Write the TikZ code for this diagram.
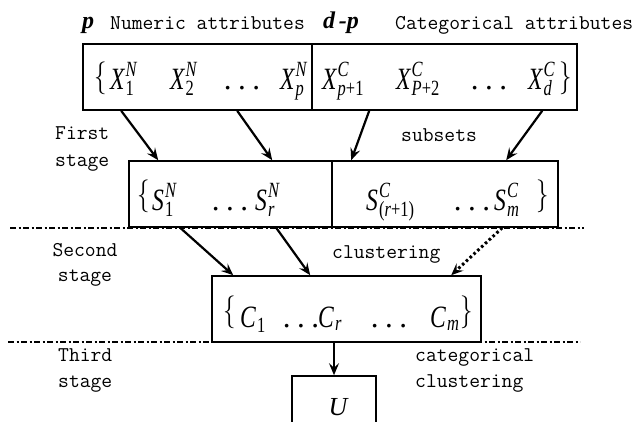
\documentclass[tikz,border=0pt]{standalone}
\usepackage{amsmath}
\usepackage{fontspec}
\usepackage{graphicx}
\usetikzlibrary{arrows.meta,calc}
\newfontfamily\tms{Liberation Serif}
\newcommand\ti[1]{\text{\tms\itshape #1}}
\newcommand\tb[1]{{\ti{#1}\kern1.5pt}}
\newcommand\tr[1]{\text{\tms #1}}
\newcommand\cx[1]{\scalebox{0.76}[1]{#1}}
\newcommand\dotsrow{\tms .\hspace{6.5pt}.\hspace{6.5pt}.}
\newcommand\lbr{\scalebox{1}[1.32]{$\{$}}
\newcommand\rbr{\scalebox{1}[1.32]{$\}$}}
\begin{document}
\begin{tikzpicture}[x=1pt,y=-1pt,
  box/.style={draw,line width=1.6pt,inner sep=0pt,fill=white},
  divline/.style={line width=1.6pt},
  lbl/.style={font=\ttfamily\fontsize{21}{24}\selectfont,inner sep=0pt,anchor=base west},
  mth/.style={inner sep=0pt,anchor=base west,font=\fontsize{31}{34}\selectfont},
  dts/.style={inner sep=0pt,anchor=base,font=\fontsize{31}{34}\selectfont},
  brc/.style={inner sep=0pt,anchor=center,font=\fontsize{31}{34}\selectfont},
  hd/.style={inner sep=0pt,anchor=base,font=\tms\bfseries\itshape\fontsize{24}{28}\selectfont},
  arr/.style={line width=2.2pt,-{Stealth[length=12pt,width=10pt,inset=4.5pt]}},
  dotarr/.style={line width=3pt,dash pattern=on 2.6pt off 2.6pt,-{Stealth[length=12pt,width=10pt,inset=4.5pt]}},
  sep/.style={line width=1.2pt,dash pattern=on 6pt off 2.5pt on 2pt off 2.5pt}]
\useasboundingbox (0,0) rectangle (638,421);
\clip (0,0) rectangle (638,421);
% separators
\coordinate (s1a) at (10,228);
\coordinate (s1b) at (584,228);
\coordinate (s2a) at (8,342);
\coordinate (s2b) at (580,342);
\draw[sep] (s1a) -- (s1b);
\draw[sep] (s2a) -- (s2b);
% boxes
\node[box,minimum width=494pt,minimum height=66pt] (top) at (330,77) {};
\node[box,minimum width=429pt,minimum height=66pt] (mid) at (343.5,194) {};
\node[box,minimum width=269pt,minimum height=66pt] (clu) at (346.5,309) {};
\node[box,minimum width=84pt,minimum height=66pt] (ubox) at (334,409) {};
\draw[divline] ($(top.north west)+(230,0)$) -- ($(top.south west)+(230,0)$);
\draw[divline] ($(mid.north west)+(204,0)$) -- ($(mid.south west)+(204,0)$);
% top labels
\node[hd] (lp) at (88,28) {p};
\node[lbl] (lnum) at (110,29) {Numeric attributes};
\node[hd] (ldp) at (341,28) {d\,-p};
\node[lbl] (lcat) at (395,29) {Categorical attributes};
% top row
\node[brc] (tb1) at (101,78) {\lbr};
\node[mth] (x1) at (110,89) {\cx{$\tb{X}_{\tr{1}}^{\ti{N}}$}};
\node[mth] (x2) at (170,89) {\cx{$\tb{X}_{\tr{2}}^{\ti{N}}$}};
\node[dts] (td1) at (242,89) {\dotsrow};
\node[mth] (xp) at (280,89) {\cx{$\tb{X}_{\ti{p}}^{\ti{N}}$}};
\node[mth] (xp1) at (322,89) {\cx{$\tb{X}_{\ti{p}\tr{+}\tr{1}}^{\ti{C}}$}};
\node[mth] (xp2) at (396,89) {\cx{$\tb{X}_{\ti{P}\tr{+}\tr{2}}^{\ti{C}}$}};
\node[dts] (td2) at (489,89) {\dotsrow};
\node[mth] (xd) at (528,89) {\cx{$\tb{X}_{\ti{d}}^{\ti{C}}$}};
\node[brc] (tb2) at (566,78) {\rbr};
% middle row
\node[brc] (mb1) at (144,196) {\lbr};
\node[mth] (s1) at (152,210) {\cx{$\tb{S}_{\tr{1}}^{\ti{N}}$}};
\node[dts] (md1) at (230,210) {\dotsrow};
\node[mth] (sr) at (255,210) {\cx{$\tb{S}_{\ti{r}}^{\ti{N}}$}};
\node[mth] (sr1) at (366,210) {\cx{$\tb{S}_{\tr{(}\ti{r}\tr{+1)}}^{\ti{C}}$}};
\node[dts] (md2) at (472,210) {\dotsrow};
\node[mth] (sm) at (494,210) {\cx{$\tb{S}_{\ti{m}}^{\ti{C}}$}};
\node[brc] (mb2) at (543,196) {\rbr};
% cluster row
\node[brc] (cb1) at (230,312) {\lbr};
\node[mth] (c1) at (240,327) {\cx{$\tb{C}_{\tr{1}}$}};
\node[dts] (cd1) at (301,327) {\dotsrow};
\node[mth] (cr) at (318,327) {\cx{$\tb{C}_{\ti{r}}$}};
\node[dts] (cd2) at (389,327) {\dotsrow};
\node[mth] (cm) at (430,327) {\cx{$\tb{C}_{\ti{m}}$}};
\node[brc] (cb2) at (467,312) {\rbr};
\node[dts,font=\fontsize{26}{30}\selectfont] (u) at (338,415) {$\ti{U}$};
% side labels
\node[lbl] (f1) at (55,139) {First};
\node[lbl] (f2) at (55,166) {stage};
\node[lbl,anchor=base] (s1l) at (85,256) {Second};
\node[lbl,anchor=base] (s2l) at (85,281) {stage};
\node[lbl] (t1) at (58,361) {Third};
\node[lbl] (t2) at (58,387) {stage};
\node[lbl] (sub) at (401,141) {subsets};
\node[lbl] (clus) at (332,258) {clustering};
\node[lbl] (cat1) at (415,361) {categorical};
\node[lbl] (cat2) at (415,387) {clustering};
% first stage arrows
\draw[arr] ($(top.south west)+(39,0)$) -- ($(mid.north west)+(30,0)$);
\draw[arr] ($(top.south west)+(155,0)$) -- ($(mid.north west)+(144,0)$);
\draw[arr] ($(top.south west)+(287,0)$) -- ($(mid.north west)+(223,0)$);
\draw[arr] ($(top.south west)+(460,0)$) -- ($(mid.north west)+(378,0)$);
% second stage arrows
\draw[arr] ($(mid.south west)+(52,0)$) -- ($(clu.north west)+(22,0)$);
\draw[arr] ($(mid.south west)+(148,0)$) -- ($(clu.north west)+(99,0)$);
\draw[dotarr] ($(mid.south west)+(374,0)$) -- ($(clu.north west)+(240,0)$);
% third stage arrow
\draw[arr] (clu.south -| ubox.north) -- (ubox.north);
\end{tikzpicture}
\end{document}
